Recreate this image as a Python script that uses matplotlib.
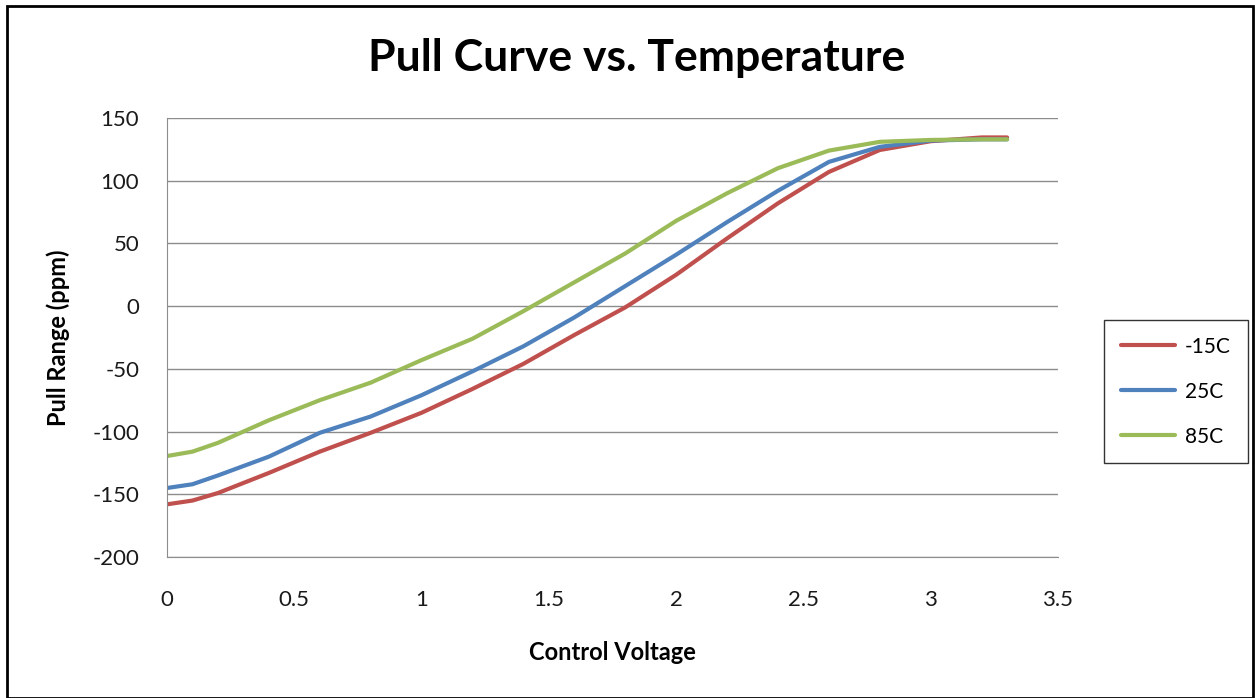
import matplotlib
matplotlib.use("Agg")
import matplotlib.pyplot as plt
from matplotlib.patches import Rectangle

# Data
control_voltage = [0, 0.1, 0.2, 0.4, 0.6, 0.8, 1.0, 1.2, 1.4, 1.6, 1.8,
                   2.0, 2.2, 2.4, 2.6, 2.8, 3.0, 3.2, 3.3]
pull_m15 = [-158, -155, -149, -133, -116, -101, -85, -66, -46, -23, -1,
            25, 54, 82, 107, 124.5, 131.5, 134.5, 134.5]
pull_25 = [-145, -142, -135, -120, -101, -88, -71, -52, -32, -9, 16,
           41, 67, 92, 115, 127, 132, 133, 133]
pull_85 = [-119.5, -116, -109, -91, -75, -61, -43, -26, -4, 19, 42,
           68, 90, 110, 124, 131, 132.5, 133, 133]
series_labels = ["-15C", "25C", "85C"]
series_colors = ["#C0504D", "#4F81BD", "#9BBB59"]

plt.rcParams['font.family'] = ['Lato', 'DejaVu Sans']
plt.rcParams['axes.unicode_minus'] = False

fig = plt.figure(figsize=(12.55, 6.98), dpi=100)

# outer chart border
fig.patches.append(Rectangle((7 / 1255, 0.0), 1246 / 1255, 1 - 6 / 698,
                             transform=fig.transFigure, fill=False,
                             edgecolor='black', linewidth=2))

ax = fig.add_axes([167 / 1255, 1 - 557 / 698, 891 / 1255, 439 / 698])

for vals, label, color in zip([pull_m15, pull_25, pull_85], series_labels, series_colors):
    ax.plot(control_voltage, vals, color=color, linewidth=3, label=label,
            solid_capstyle='round')

ax.set_xlim(0, 3.5)
ax.set_ylim(-200, 150)
ax.set_xticks([0, 0.5, 1, 1.5, 2, 2.5, 3, 3.5])
ax.set_xticklabels(['0', '0.5', '1', '1.5', '2', '2.5', '3', '3.5'])
ax.set_yticks(range(-200, 151, 50))
ax.grid(axis='y', color='#8C8C8C', linewidth=1)
ax.set_axisbelow(True)

for side in ['top', 'right']:
    ax.spines[side].set_visible(False)
for side in ['left', 'bottom']:
    ax.spines[side].set_color('#8C8C8C')
ax.tick_params(axis='both', labelsize=16, length=0, colors='#1a1a1a')
ax.tick_params(axis='x', pad=24)
ax.tick_params(axis='y', pad=20)

# title is centred on the whole chart, not on the plot area
fig.text(637 / 1255, 1 - 58 / 698, 'Pull Curve vs. Temperature', fontsize=32,
         fontweight='bold', ha='center', va='center')
ax.set_xlabel('Control Voltage', fontsize=17, fontweight='bold', labelpad=22)
ax.set_ylabel('Pull Range (ppm)', fontsize=17, fontweight='bold', labelpad=16)

leg = ax.legend(loc='upper left', bbox_to_anchor=(1104 / 1255, 1 - 320 / 698),
                bbox_transform=fig.transFigure, fontsize=15,
                frameon=True, fancybox=False, edgecolor='black',
                handlelength=2.6, labelspacing=1.2, borderpad=0.8,
                handletextpad=0.5, borderaxespad=0)
leg.get_frame().set_linewidth(1)

fig.savefig('out.png', dpi=100)
